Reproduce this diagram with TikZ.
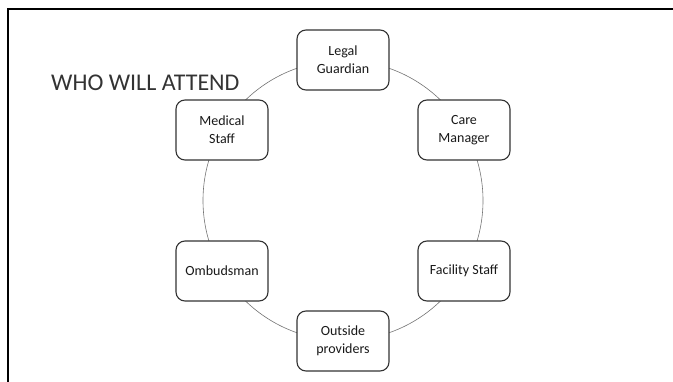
\documentclass[tikz,border=0pt]{standalone}
\usepackage{fontspec}
\setmainfont{Carlito}
\begin{document}
\begin{tikzpicture}[x=1pt,y=-1pt,
  member/.style={draw=black!80,line width=1.1pt,rounded corners=9pt,fill=white,
    minimum width=92pt,minimum height=60pt,align=center,inner sep=2pt,
    font=\fontsize{14}{18}\selectfont,text=black!90}]
\useasboundingbox (0,0) rectangle (673,381);
\draw[line width=2pt,line cap=rect] (673,9) -- (8,9) -- (8,381);
\draw[black!55,line width=0.6pt] (343,200.5) circle (140);
\node[member] (lg) at (343,60) {Legal\\Guardian};
\node[member] (cm) at (464,130) {Care\\Manager};
\node[member] (fs) at (464,271) {Facility Staff};
\node[member] (op) at (343,341) {Outside\\providers};
\node[member] (om) at (222,271) {Ombudsman};
\node[member] (ms) at (222,130) {Medical\\Staff};
\node[anchor=base west,inner sep=0pt,font=\fontsize{24}{28}\selectfont,text=black!80] (title) at (51,90.5) {WHO WILL ATTEND};
\end{tikzpicture}
\end{document}
